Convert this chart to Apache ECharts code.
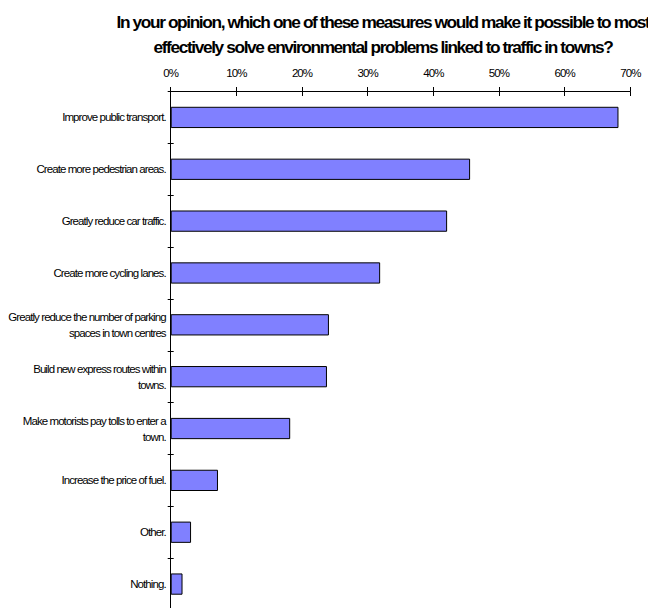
<!DOCTYPE html>
<html>
<head>
<meta charset="utf-8">
<script src="https://cdn.jsdelivr.net/npm/echarts@6/dist/echarts.min.js"></script>
<style>
  html, body { margin: 0; padding: 0; background: #fff; }
  #chart { width: 648px; height: 608px; }
  /* condensed, tightly-set lettering */
  #chart svg text { letter-spacing: -0.08em; }
</style>
</head>
<body>
<div id="chart"></div>
<script>
// Survey answers, top to bottom
const categories = [
  'Improve public transport.',
  'Create more pedestrian areas.',
  'Greatly reduce car traffic.',
  'Create more cycling lanes.',
  'Greatly reduce the number of parking\nspaces in town centres',
  'Build new express routes within\ntowns.',
  'Make motorists pay tolls to enter a\ntown.',
  'Increase the price of fuel.',
  'Other.',
  'Nothing.'
];

// Share of respondents (%)
const shares = [68.2, 45.6, 42.1, 31.9, 24.1, 23.8, 18.2, 7.2, 3.1, 1.8];

// Percentage axis
const axisMin = 0;
const axisMax = 70;
const axisStep = 10;

const titleText = 'In your opinion, which one of these measures would make it possible to most\neffectively solve environmental problems linked to traffic in towns?';

const FONT = '"Liberation Sans", Arial, sans-serif';

const chart = echarts.init(document.getElementById('chart'), null, { renderer: 'svg' });

chart.setOption({
  animation: false,
  backgroundColor: '#ffffff',
  title: {
    text: titleText,
    left: 378,
    top: 4,
    textAlign: 'center',
    textStyle: {
      fontFamily: FONT,
      fontWeight: 'bold',
      fontSize: 17.3,
      lineHeight: 25,
      color: '#000'
    }
  },
  grid: {
    left: 170.7,
    right: 17.7,
    top: 91.5,
    bottom: -2,
    containLabel: false,
    outerBoundsMode: 'none'
  },
  xAxis: [
    {
      type: 'value',
      position: 'top',
      min: axisMin,
      max: axisMax,
      interval: axisStep,
      axisLine: { show: true, lineStyle: { color: '#000', width: 1 } },
      axisTick: { show: true, length: 4.5, lineStyle: { color: '#000' } },
      axisLabel: {
        margin: 13,
        fontFamily: FONT,
        fontSize: 11.5,
        color: '#000',
        formatter: v => v + '%'
      },
      splitLine: { show: false }
    },
    {
      // inner half of the crossing tick marks
      type: 'value',
      position: 'top',
      min: axisMin,
      max: axisMax,
      interval: axisStep,
      axisLine: { show: false },
      axisTick: { show: true, inside: true, length: 4.5, lineStyle: { color: '#000' } },
      axisLabel: { show: false },
      splitLine: { show: false }
    }
  ],
  yAxis: [
    {
      type: 'category',
      inverse: true,
      data: categories,
      axisLine: { show: true, lineStyle: { color: '#000', width: 1 } },
      axisTick: { show: true, length: 3, lineStyle: { color: '#000' } },
      axisLabel: {
        margin: 5,
        fontFamily: FONT,
        fontSize: 11.5,
        lineHeight: 16,
        color: '#000',
        align: 'right'
      },
      splitLine: { show: false }
    },
    {
      // inner half of the crossing tick marks
      type: 'category',
      inverse: true,
      position: 'left',
      data: categories,
      axisLine: { show: false },
      axisTick: { show: true, inside: true, length: 3, lineStyle: { color: '#000' } },
      axisLabel: { show: false },
      splitLine: { show: false }
    }
  ],
  series: [
    {
      type: 'bar',
      xAxisIndex: 0,
      yAxisIndex: 0,
      data: shares,
      barWidth: '41%',
      itemStyle: {
        color: '#8080FF',
        borderColor: '#000',
        borderWidth: 1
      },
      label: { show: false }
    }
  ]
});
</script>
</body>
</html>
